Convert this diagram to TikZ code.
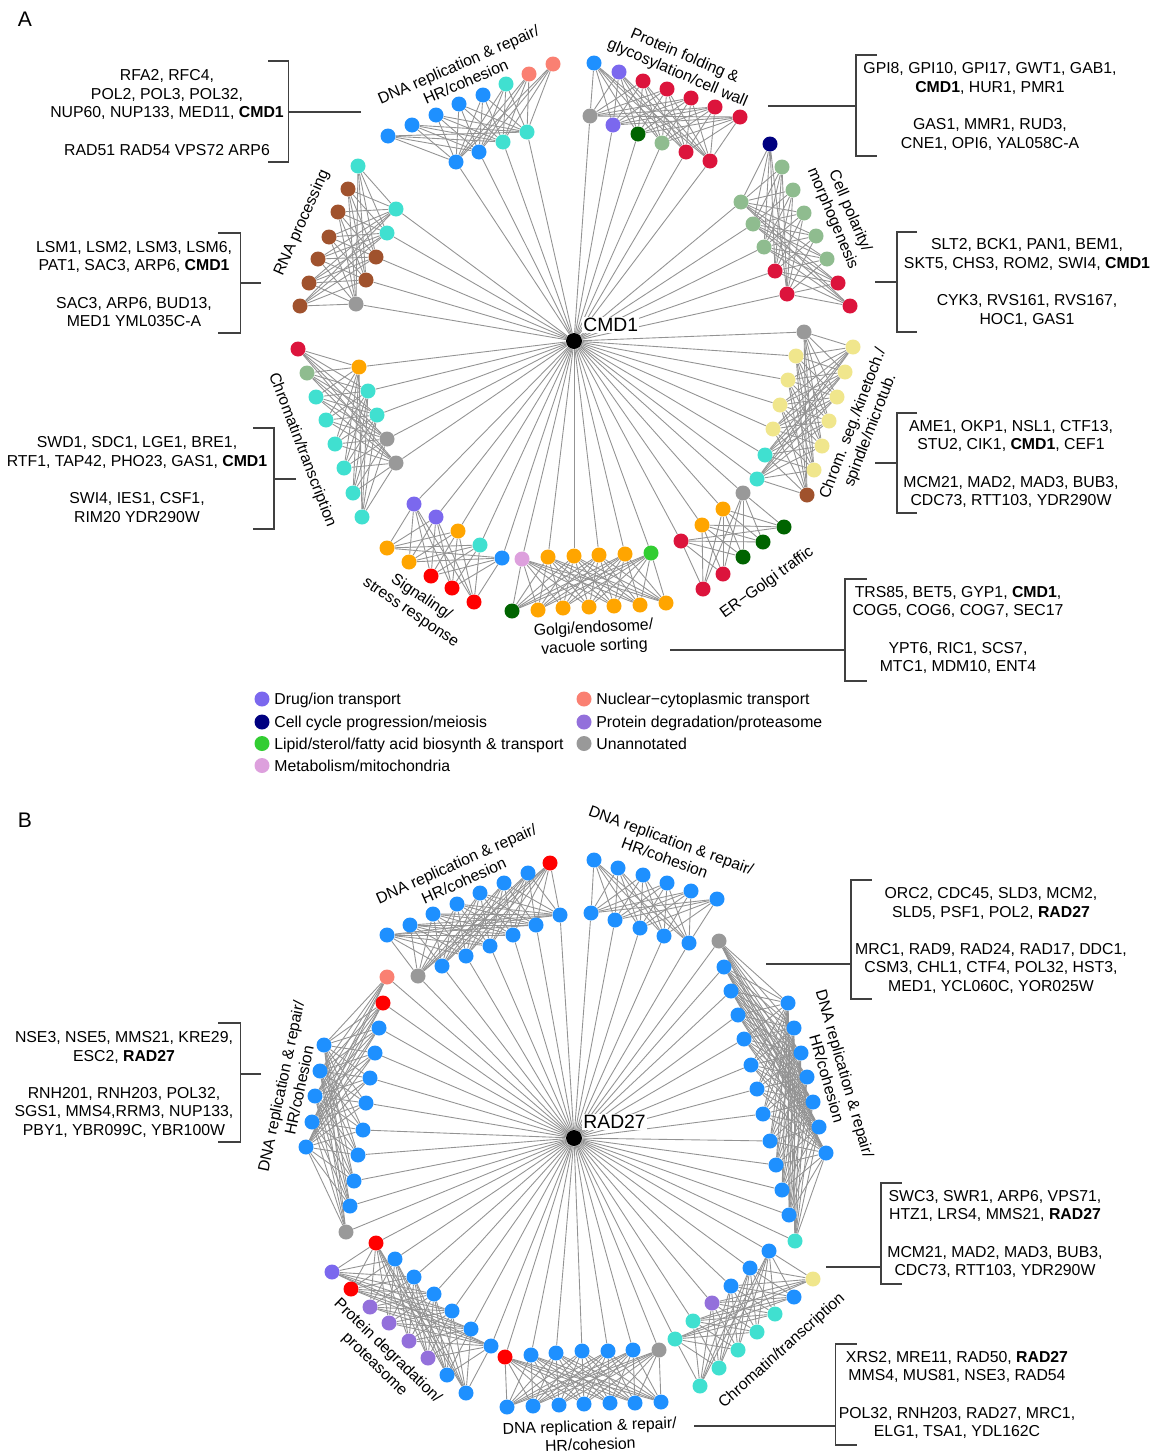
\documentclass[tikz,border=0pt]{standalone}
\usepackage{fontspec}
\setmainfont{Liberation Sans}
\usepackage{tikz}
\pgfdeclarelayer{bg}
\pgfsetlayers{bg,main}

\definecolor{cblue}{HTML}{1E90FF}
\definecolor{cturq}{HTML}{40E0D0}
\definecolor{csalmon}{HTML}{FA8072}
\definecolor{ccrimson}{HTML}{DC143C}
\definecolor{cred}{HTML}{FF0000}
\definecolor{cdkgreen}{HTML}{006400}
\definecolor{cltgreen}{HTML}{8FBC8F}
\definecolor{cslate}{HTML}{7B68EE}
\definecolor{cpurple}{HTML}{9370DB}
\definecolor{cbrown}{HTML}{A0522D}
\definecolor{corange}{HTML}{FFA500}
\definecolor{ckhaki}{HTML}{F0E68C}
\definecolor{cgray}{HTML}{999999}
\definecolor{clime}{HTML}{32CD32}
\definecolor{cplum}{HTML}{DDA0DD}
\definecolor{cnavy}{HTML}{000080}

\begin{document}
\begin{tikzpicture}[x=0.02cm, y=-0.02cm,
  gene/.style={circle, draw=none, minimum size=0.3cm, inner sep=0pt},
  link/.style={gray!85, line width=0.5pt},
  brk/.style={black!75, line width=0.6pt},
  genelist/.style={align=center, font=\fontsize{9}{10.6}\selectfont, inner sep=0pt},
  grouplabel/.style={align=center, font=\fontsize{9}{10.6}\selectfont, inner sep=0pt},
  hublabel/.style={font=\fontsize{11}{13}\selectfont, fill=white, inner sep=0.6pt}]

\newcommand\clusterlinks[4]{%
  \foreach \i in {1,...,#2}{\foreach \j in {1,...,#3}{\draw[link] (#1-o\i) -- (#1-i\j);}}%
  \foreach \j in {1,...,#3}{\draw[link] (#4) -- (#1-i\j);}%
}

\useasboundingbox (0,0) rectangle (1161,1454);

%%% panel A
\node at (25,19) [font=\fontsize{12}{14}\selectfont, inner sep=0pt] (labA) {A};
\node at (574,341) [gene, fill=black, minimum size=0.32cm] (cmd) {};
\node at (582,325) [hublabel, anchor=west] (cmdname) {CMD1};

% DNA replication
\foreach \k/\x/\y/\c in {1/388/136/cblue, 2/412/125/cblue, 3/436/115/cblue, 4/459/104/cblue, 5/483/95/cblue, 6/506/84/cturq, 7/529/74/csalmon, 8/553/64/csalmon}
  \node at (\x,\y) [gene, fill=\c] (aDNA-o\k) {};
\foreach \k/\x/\y/\c in {1/456/162/cblue, 2/479/152/cblue, 3/503/142/cturq, 4/527/132/cturq}
  \node at (\x,\y) [gene, fill=\c] (aDNA-i\k) {};

% protein folding
\foreach \k/\x/\y/\c in {1/594/63/cblue, 2/619/72/cslate, 3/643/81/ccrimson, 4/667/89/ccrimson, 5/691/98/ccrimson, 6/715/107/ccrimson, 7/740/117/ccrimson}
  \node at (\x,\y) [gene, fill=\c] (aFold-o\k) {};
\foreach \k/\x/\y/\c in {1/590/116/cgray, 2/613/125/cslate, 3/638/134/cdkgreen, 4/662/143/cltgreen, 5/686/152/ccrimson, 6/710/161/ccrimson}
  \node at (\x,\y) [gene, fill=\c] (aFold-i\k) {};

% cell polarity
\foreach \k/\x/\y/\c in {1/770/144/cnavy, 2/782/167/cltgreen, 3/793/190/cltgreen, 4/804/213/cltgreen, 5/816/236/cltgreen, 6/827/259/cltgreen, 7/838/283/ccrimson, 8/850/306/ccrimson}
  \node at (\x,\y) [gene, fill=\c] (aPol-o\k) {};
\foreach \k/\x/\y/\c in {1/741/202/cltgreen, 2/753/224/cltgreen, 3/764/247/cltgreen, 4/775/271/ccrimson, 5/787/294/ccrimson}
  \node at (\x,\y) [gene, fill=\c] (aPol-i\k) {};

% chromosome segregation
\foreach \k/\x/\y/\c in {1/853/347/ckhaki, 2/845/372/ckhaki, 3/837/397/ckhaki, 4/829/421/ckhaki, 5/822/446/ckhaki, 6/814/470/ckhaki, 7/807/495/cbrown}
  \node at (\x,\y) [gene, fill=\c] (aSeg-o\k) {};
\foreach \k/\x/\y/\c in {1/804/332/cgray, 2/796/356/ckhaki, 3/788/380/ckhaki, 4/780/405/ckhaki, 5/773/429/ckhaki, 6/765/455/cturq, 7/757/479/cturq}
  \node at (\x,\y) [gene, fill=\c] (aSeg-i\k) {};

% ER-Golgi
\foreach \k/\x/\y/\c in {1/703/589/ccrimson, 2/723/574/ccrimson, 3/743/557/cdkgreen, 4/763/542/cdkgreen, 5/784/527/cdkgreen}
  \node at (\x,\y) [gene, fill=\c] (aER-o\k) {};
\foreach \k/\x/\y/\c in {1/743/493/cgray, 2/723/509/corange, 3/702/525/corange, 4/681/541/ccrimson}
  \node at (\x,\y) [gene, fill=\c] (aER-i\k) {};

% Golgi/endosome
\foreach \k/\x/\y/\c in {1/512/611/cdkgreen, 2/538/610/corange, 3/563/608/corange, 4/589/607/corange, 5/614/606/corange, 6/640/605/corange, 7/666/603/corange}
  \node at (\x,\y) [gene, fill=\c] (aGolgi-o\k) {};
\foreach \k/\x/\y/\c in {1/522/559/cplum, 2/548/557/corange, 3/574/556/corange, 4/599/555/corange, 5/625/554/corange, 6/651/553/clime}
  \node at (\x,\y) [gene, fill=\c] (aGolgi-i\k) {};

% signaling
\foreach \k/\x/\y/\c in {1/387/548/corange, 2/409/562/corange, 3/431/576/cred, 4/452/588/cred, 5/474/602/cred}
  \node at (\x,\y) [gene, fill=\c] (aSig-o\k) {};
\foreach \k/\x/\y/\c in {1/414/504/cslate, 2/436/517/cslate, 3/458/531/corange, 4/480/545/cturq, 5/502/558/cblue}
  \node at (\x,\y) [gene, fill=\c] (aSig-i\k) {};

% chromatin
\foreach \k/\x/\y/\c in {1/298/349/ccrimson, 2/307/373/cltgreen, 3/316/397/cturq, 4/326/420/cturq, 5/335/444/cturq, 6/344/468/cturq, 7/353/493/cturq, 8/362/517/cturq}
  \node at (\x,\y) [gene, fill=\c] (aChr-o\k) {};
\foreach \k/\x/\y/\c in {1/359/367/corange, 2/368/391/cturq, 3/377/415/cturq, 4/387/439/cgray, 5/396/463/cgray}
  \node at (\x,\y) [gene, fill=\c] (aChr-i\k) {};

% RNA processing
\foreach \k/\x/\y/\c in {1/358/166/cturq, 2/348/189/cbrown, 3/338/212/cbrown, 4/329/237/cbrown, 5/318/259/cbrown, 6/309/283/cbrown, 7/300/306/cbrown}
  \node at (\x,\y) [gene, fill=\c] (aRNA-o\k) {};
\foreach \k/\x/\y/\c in {1/396/209/cturq, 2/387/233/cturq, 3/376/257/cbrown, 4/366/280/cbrown, 5/356/304/cgray}
  \node at (\x,\y) [gene, fill=\c] (aRNA-i\k) {};

\node at (462,73) [grouplabel, rotate=23.5] (aDNA-name) {DNA replication \& repair/\\HR/cohesion};
\node at (681,65) [grouplabel, rotate=-23] (aFold-name) {Protein folding \&\\glycosylation/cell wall};
\node at (841,215) [grouplabel, rotate=-67] (aPol-name) {Cell polarity/\\morphogenesis};
\node at (862,427) [grouplabel, rotate=69] (aSeg-name) {Chrom. seg./kinetoch./\\spindle/microtub.};
\node at (767,583) [grouplabel, rotate=36] (aER-name) {ER−Golgi traffic};
\node at (594,638) [grouplabel, rotate=3] (aGolgi-name) {Golgi/endosome/\\vacuole sorting};
\node at (416,605) [grouplabel, rotate=-34] (aSig-name) {Signaling/\\stress response};
\node at (302,450) [grouplabel, rotate=-69] (aChr-name) {Chromatin/transcription};
\node at (302,223) [grouplabel, rotate=66] (aRNA-name) {RNA processing};

% gene lists
\node at (167,112.5) [genelist] (aDNA-list) {RFA2, RFC4,\\POL2, POL3, POL32,\\NUP60, NUP133, MED11, \textbf{CMD1}\\[10.6pt]RAD51 RAD54 VPS72 ARP6};
\coordinate (aDNA-tip) at (361,112);
\coordinate (aDNA-br) at (288.6,112);
\draw[brk] (aDNA-tip) -- (aDNA-br);
\draw[brk] (268,61) -- (288.6,61) -- (288.6,162) -- (268,162);

\node at (990,106.5) [genelist] (aFold-list) {GPI8, GPI10, GPI17, GWT1, GAB1,\\\textbf{CMD1}, HUR1, PMR1\\[10.6pt]GAS1, MMR1, RUD3,\\CNE1, OPI6, YAL058C-A};
\coordinate (aFold-tip) at (768,106);
\coordinate (aFold-br) at (856,106);
\draw[brk] (aFold-tip) -- (aFold-br);
\draw[brk] (877,55) -- (856,55) -- (856,156) -- (877,156);

\node at (1027,282.5) [genelist] (aPol-list) {SLT2, BCK1, PAN1, BEM1,\\SKT5, CHS3, ROM2, SWI4, \textbf{CMD1}\\[10.6pt]CYK3, RVS161, RVS167,\\HOC1, GAS1};
\coordinate (aPol-tip) at (875,282);
\coordinate (aPol-br) at (897,282);
\draw[brk] (aPol-tip) -- (aPol-br);
\draw[brk] (917,232) -- (897,232) -- (897,332) -- (917,332);

\node at (1011,464) [genelist] (aSeg-list) {AME1, OKP1, NSL1, CTF13,\\STU2, CIK1, \textbf{CMD1}, CEF1\\[10.6pt]MCM21, MAD2, MAD3, BUB3,\\CDC73, RTT103, YDR290W};
\coordinate (aSeg-tip) at (875,463);
\coordinate (aSeg-br) at (897,463);
\draw[brk] (aSeg-tip) -- (aSeg-br);
\draw[brk] (917,413) -- (897,413) -- (897,513) -- (917,513);

\node at (958,630) [genelist] (aGolgi-list) {TRS85, BET5, GYP1, \textbf{CMD1},\\COG5, COG6, COG7, SEC17\\[10.6pt]YPT6, RIC1, SCS7,\\MTC1, MDM10, ENT4};
\coordinate (aGolgi-tip) at (670,650);
\coordinate (aGolgi-br) at (845,650);
\draw[brk] (aGolgi-tip) -- (aGolgi-br);
\draw[brk] (867,579) -- (845,579) -- (845,681) -- (867,681);

\node at (137,479.5) [genelist] (aChr-list) {SWD1, SDC1, LGE1, BRE1,\\RTF1, TAP42, PHO23, GAS1, \textbf{CMD1}\\[10.6pt]SWI4, IES1, CSF1,\\RIM20 YDR290W};
\coordinate (aChr-tip) at (296,479);
\coordinate (aChr-br) at (274,479);
\draw[brk] (aChr-tip) -- (aChr-br);
\draw[brk] (253,428) -- (274,428) -- (274,529) -- (253,529);

\node at (134,284) [genelist] (aRNA-list) {LSM1, LSM2, LSM3, LSM6,\\PAT1, SAC3, ARP6, \textbf{CMD1}\\[10.6pt]SAC3, ARP6, BUD13,\\MED1 YML035C-A};
\coordinate (aRNA-tip) at (261,283);
\coordinate (aRNA-br) at (240.5,283);
\draw[brk] (aRNA-tip) -- (aRNA-br);
\draw[brk] (218,233) -- (240.5,233) -- (240.5,333) -- (218,333);

% legend
\node at (262,699) [gene, fill=cslate] (key1) {};
\node at (274,704.5) [anchor=base west, genelist] (key1-text) {Drug/ion transport};
\node at (262,722) [gene, fill=cnavy] (key2) {};
\node at (274,727.5) [anchor=base west, genelist] (key2-text) {Cell cycle progression/meiosis};
\node at (262,743.5) [gene, fill=clime] (key3) {};
\node at (274,749) [anchor=base west, genelist] (key3-text) {Lipid/sterol/fatty acid biosynth \& transport};
\node at (262,765.5) [gene, fill=cplum] (key4) {};
\node at (274,771) [anchor=base west, genelist] (key4-text) {Metabolism/mitochondria};
\node at (584,699) [gene, fill=csalmon] (key5) {};
\node at (596,704.5) [anchor=base west, genelist] (key5-text) {Nuclear−cytoplasmic transport};
\node at (584,722) [gene, fill=cpurple] (key6) {};
\node at (596,727.5) [anchor=base west, genelist] (key6-text) {Protein degradation/proteasome};
\node at (584,743.5) [gene, fill=cgray] (key7) {};
\node at (596,749) [anchor=base west, genelist] (key7-text) {Unannotated};

%%% panel B
\node at (25,820.5) [font=\fontsize{12}{14}\selectfont, inner sep=0pt] (labB) {B};
\node at (574,1138) [gene, fill=black, minimum size=0.32cm] (rad) {};
\node at (582,1122) [hublabel, anchor=west] (radname) {RAD27};

% top left
\foreach \k/\x/\y/\c in {1/387/935/cblue, 2/410/925/cblue, 3/433/914/cblue, 4/457/904/cblue, 5/480/893/cblue, 6/504/883/cblue, 7/528/873/cblue, 8/550/863/cred}
  \node at (\x,\y) [gene, fill=\c] (bDNA1-o\k) {};
\foreach \k/\x/\y/\c in {1/418/976/cgray, 2/442/966/cblue, 3/466/956/cblue, 4/490/946/cblue, 5/513/935/cblue, 6/536/925/cblue, 7/560/915/cblue}
  \node at (\x,\y) [gene, fill=\c] (bDNA1-i\k) {};

% top right
\foreach \k/\x/\y in {1/594/860, 2/618/868, 3/643/875, 4/667/883, 5/691/891, 6/717/899}
  \node at (\x,\y) [gene, fill=cblue] (bDNA2-o\k) {};
\foreach \k/\x/\y in {1/591/913, 2/615/920, 3/640/928, 4/664/936, 5/689/943}
  \node at (\x,\y) [gene, fill=cblue] (bDNA2-i\k) {};

% right
\foreach \k/\x/\y in {1/788/1003, 2/794/1028, 3/801/1053, 4/807/1077, 5/813/1102, 6/819/1127, 7/826/1153}
  \node at (\x,\y) [gene, fill=cblue] (bDNA3-o\k) {};
\foreach \k/\x/\y/\c in {1/719/941/cgray, 2/724/967/cblue, 3/731/991/cblue, 4/738/1015/cblue, 5/744/1039/cblue, 6/751/1065/cblue, 7/757/1089/cblue, 8/763/1114/cblue, 9/770/1141/cblue, 10/776/1165/cblue, 11/782/1190/cblue, 12/789/1215/cblue, 13/795/1241/cturq}
  \node at (\x,\y) [gene, fill=\c] (bDNA3-i\k) {};

% chromatin
\foreach \k/\x/\y/\c in {1/813/1279/ckhaki, 2/794/1297/cblue, 3/775/1314/cturq, 4/757/1332/cturq, 5/738/1350/cturq, 6/719/1368/cturq, 7/700/1386/cturq}
  \node at (\x,\y) [gene, fill=\c] (bChr-o\k) {};
\foreach \k/\x/\y/\c in {1/769/1251/cblue, 2/750/1268/cblue, 3/731/1286/cblue, 4/712/1303/cpurple, 5/693/1321/cturq, 6/675/1339/cturq}
  \node at (\x,\y) [gene, fill=\c] (bChr-i\k) {};

% bottom
\foreach \k/\x/\y in {1/507/1407, 2/533/1406, 3/559/1405, 4/584/1404, 5/610/1403, 6/635/1403, 7/661/1402}
  \node at (\x,\y) [gene, fill=cblue] (bDNA4-o\k) {};
\foreach \k/\x/\y/\c in {1/505/1357/cred, 2/531/1355/cblue, 3/556/1353/cblue, 4/582/1351/cblue, 5/608/1351/cblue, 6/633/1350/cblue, 7/659/1350/cgray}
  \node at (\x,\y) [gene, fill=\c] (bDNA4-i\k) {};

% protein degradation
\foreach \k/\x/\y/\c in {1/332/1272/cslate, 2/351/1289/cred, 3/370/1307/cpurple, 4/389/1323/cpurple, 5/409/1341/cpurple, 6/428/1358/cpurple, 7/447/1375/cblue, 8/466/1393/cblue}
  \node at (\x,\y) [gene, fill=\c] (bProt-o\k) {};
\foreach \k/\x/\y/\c in {1/376/1243/cred, 2/395/1259/cblue, 3/414/1277/cblue, 4/434/1294/cblue, 5/452/1311/cblue, 6/471/1329/cblue, 7/491/1346/cblue}
  \node at (\x,\y) [gene, fill=\c] (bProt-i\k) {};

% left
\foreach \k/\x/\y in {1/324/1045, 2/320/1071, 3/315/1096, 4/312/1122, 5/306/1147}
  \node at (\x,\y) [gene, fill=cblue] (bDNA5-o\k) {};
\foreach \k/\x/\y/\c in {1/387/977/csalmon, 2/383/1003/cred, 3/379/1028/cblue, 4/375/1053/cblue, 5/370/1078/cblue, 6/366/1103/cblue, 7/363/1130/cblue, 8/358/1155/cblue, 9/354/1181/cblue, 10/350/1206/cblue, 11/346/1232/cgray}
  \node at (\x,\y) [gene, fill=\c] (bDNA5-i\k) {};

\node at (460,872) [grouplabel, rotate=24] (bDNA1-name) {DNA replication \& repair/\\HR/cohesion};
\node at (668,849) [grouplabel, rotate=-20] (bDNA2-name) {DNA replication \& repair/\\HR/cohesion};
\node at (836,1076) [grouplabel, rotate=-74] (bDNA3-name) {DNA replication \& repair/\\HR/cohesion};
\node at (782,1351) [grouplabel, rotate=42] (bChr-name) {Chromatin/transcription};
\node at (590,1435) [grouplabel, rotate=2] (bDNA4-name) {DNA replication \& repair/\\HR/cohesion};
\node at (381,1358) [grouplabel, rotate=-44] (bProt-name) {Protein degradation/\\proteasome};
\node at (290,1088) [grouplabel, rotate=78] (bDNA5-name) {DNA replication \& repair/\\HR/cohesion};

% gene lists
\node at (124,1084.5) [genelist] (bDNA5-list) {NSE3, NSE5, MMS21, KRE29,\\ESC2, \textbf{RAD27}\\[10.6pt]RNH201, RNH203, POL32,\\SGS1, MMS4,RRM3, NUP133,\\PBY1, YBR099C, YBR100W};
\coordinate (bDNA5-tip) at (261,1074);
\coordinate (bDNA5-br) at (240.5,1074);
\draw[brk] (bDNA5-tip) -- (bDNA5-br);
\draw[brk] (218,1023) -- (240.5,1023) -- (240.5,1142) -- (218,1142);

\node at (991,940.5) [genelist] (bDNA3-list) {ORC2, CDC45, SLD3, MCM2,\\SLD5, PSF1, POL2, \textbf{RAD27}\\[10.6pt]MRC1, RAD9, RAD24, RAD17, DDC1,\\CSM3, CHL1, CTF4, POL32, HST3,\\MED1, YCL060C, YOR025W};
\coordinate (bDNA3-tip) at (766,964);
\coordinate (bDNA3-br) at (851,964);
\draw[brk] (bDNA3-tip) -- (bDNA3-br);
\draw[brk] (871.5,880) -- (851,880) -- (851,999) -- (871.5,999);

\node at (995,1234) [genelist] (bChr-list) {SWC3, SWR1, ARP6, VPS71,\\HTZ1, LRS4, MMS21, \textbf{RAD27}\\[10.6pt]MCM21, MAD2, MAD3, BUB3,\\CDC73, RTT103, YDR290W};
\coordinate (bChr-tip) at (826,1267);
\coordinate (bChr-br) at (881,1267);
\draw[brk] (bChr-tip) -- (bChr-br);
\draw[brk] (901.5,1183) -- (881,1183) -- (881,1284) -- (901.5,1284);

\node at (957,1395) [genelist] (bDNA4-list) {XRS2, MRE11, RAD50, \textbf{RAD27}\\MMS4, MUS81, NSE3, RAD54\\[10.6pt]POL32, RNH203, RAD27, MRC1,\\ELG1, TSA1, YDL162C};
\coordinate (bDNA4-tip) at (694,1426);
\coordinate (bDNA4-br) at (835.7,1426);
\draw[brk] (bDNA4-tip) -- (bDNA4-br);
\draw[brk] (856.5,1344) -- (835.7,1344) -- (835.7,1445) -- (856.5,1445);

% interactions, behind the genes
\begin{pgfonlayer}{bg}
\fill[white] (0,0) rectangle (1161,1454);
\clusterlinks{aDNA}{8}{4}{cmd}
\clusterlinks{aFold}{7}{6}{cmd}
\clusterlinks{aPol}{8}{5}{cmd}
\clusterlinks{aSeg}{7}{7}{cmd}
\clusterlinks{aER}{5}{4}{cmd}
\clusterlinks{aGolgi}{7}{6}{cmd}
\clusterlinks{aSig}{5}{5}{cmd}
\clusterlinks{aChr}{8}{5}{cmd}
\clusterlinks{aRNA}{7}{5}{cmd}
\clusterlinks{bDNA1}{8}{7}{rad}
\clusterlinks{bDNA2}{6}{5}{rad}
\clusterlinks{bDNA3}{7}{13}{rad}
\clusterlinks{bChr}{7}{6}{rad}
\clusterlinks{bDNA4}{7}{7}{rad}
\clusterlinks{bProt}{8}{7}{rad}
\clusterlinks{bDNA5}{5}{11}{rad}
\end{pgfonlayer}

\end{tikzpicture}
\end{document}
